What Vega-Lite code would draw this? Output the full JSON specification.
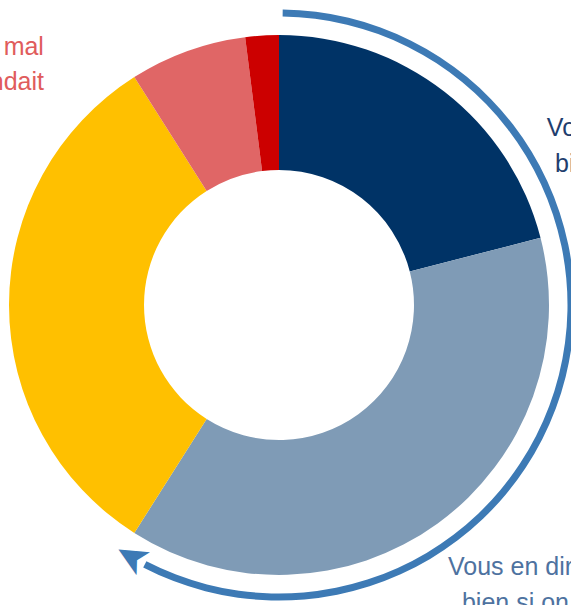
{
  "$schema": "https://vega.github.io/schema/vega-lite/v6.json",
  "width": 558,
  "height": 600,
  "autosize": "none",
  "padding": {"left": 0, "top": 5, "right": 13, "bottom": 0},
  "background": "white",
  "config": {"view": {"stroke": null}},
  "datasets": {
    "slices": [
      {"category": "Vous en dites du bien spontanément", "value": 21, "order": 1},
      {"category": "Vous en diriez du bien si on vous le demandait", "value": 38, "order": 2},
      {"category": "Vous n'en diriez rien", "value": 32, "order": 3},
      {"category": "Vous en diriez du mal si on vous le demandait", "value": 7, "order": 4},
      {"category": "Vous en dites du mal spontanément", "value": 2, "order": 5}
    ],
    "arrow": [{"start": 0.2, "end": 57.6, "head": 58.4, "symbol": "➤"}],
    "labels": [
      {"text": "Vous en diriez du mal", "group": "left", "pos": 87.99, "dist": 1.271},
      {"text": "si on vous le demandait", "group": "left", "pos": 86.80, "dist": 1.180},
      {"text": "Vous en dites du", "group": "top", "pos": 16.04, "dist": 1.173},
      {"text": "bien spontanément", "group": "top", "pos": 17.85, "dist": 1.135},
      {"text": "Vous en diriez du", "group": "bottom", "pos": 41.10, "dist": 1.180},
      {"text": "bien si on vous le demandait", "group": "bottom", "pos": 41.42, "dist": 1.320}
    ]
  },
  "layer": [
    {
      "data": {"name": "slices"},
      "mark": {"type": "arc", "innerRadius": 135, "outerRadius": 270},
      "encoding": {
        "theta": {"field": "value", "type": "quantitative", "stack": true, "scale": {"domain": [0, 100]}},
        "order": {"field": "order", "type": "quantitative"},
        "color": {
          "field": "category", "type": "nominal", "legend": null,
          "scale": {
            "domain": ["Vous en dites du bien spontanément", "Vous en diriez du bien si on vous le demandait", "Vous n'en diriez rien", "Vous en diriez du mal si on vous le demandait", "Vous en dites du mal spontanément"],
            "range": ["#003366", "#7F9BB6", "#FFC000", "#E06666", "#CC0000"]
          }
        }
      }
    },
    {
      "data": {"name": "arrow"},
      "mark": {"type": "arc", "radius": 295.5, "radius2": 288.5, "color": "#3D7AB5"},
      "encoding": {
        "theta": {"field": "start", "type": "quantitative", "stack": null},
        "theta2": {"field": "end"}
      }
    },
    {
      "data": {"name": "arrow"},
      "mark": {"type": "text", "radius": 292, "angle": 210, "align": "center", "baseline": "middle", "font": "DejaVu Sans", "fontSize": 42, "color": "#3D7AB5"},
      "encoding": {
        "theta": {"field": "head", "type": "quantitative", "stack": null},
        "text": {"field": "symbol"}
      }
    },
    {
      "data": {"name": "labels"},
      "transform": [{"filter": "datum.group === 'left'"}],
      "mark": {"type": "text", "align": "right", "baseline": "alphabetic", "font": "Liberation Sans", "fontSize": 25, "color": "#E05C5C"},
      "encoding": {
        "theta": {"field": "pos", "type": "quantitative", "stack": null},
        "radius": {"field": "dist", "type": "quantitative", "scale": {"type": "linear", "domain": [0, 1], "range": [0, 270], "zero": true}},
        "text": {"field": "text"}
      }
    },
    {
      "data": {"name": "labels"},
      "transform": [{"filter": "datum.group === 'top'"}],
      "mark": {"type": "text", "align": "left", "baseline": "alphabetic", "font": "Liberation Sans", "fontSize": 25, "color": "#1F3E6E"},
      "encoding": {
        "theta": {"field": "pos", "type": "quantitative", "stack": null},
        "radius": {"field": "dist", "type": "quantitative"},
        "text": {"field": "text"}
      }
    },
    {
      "data": {"name": "labels"},
      "transform": [{"filter": "datum.group === 'bottom'"}],
      "mark": {"type": "text", "align": "left", "baseline": "alphabetic", "font": "Liberation Sans", "fontSize": 25, "color": "#4E72A0"},
      "encoding": {
        "theta": {"field": "pos", "type": "quantitative", "stack": null},
        "radius": {"field": "dist", "type": "quantitative"},
        "text": {"field": "text"}
      }
    }
  ]
}
